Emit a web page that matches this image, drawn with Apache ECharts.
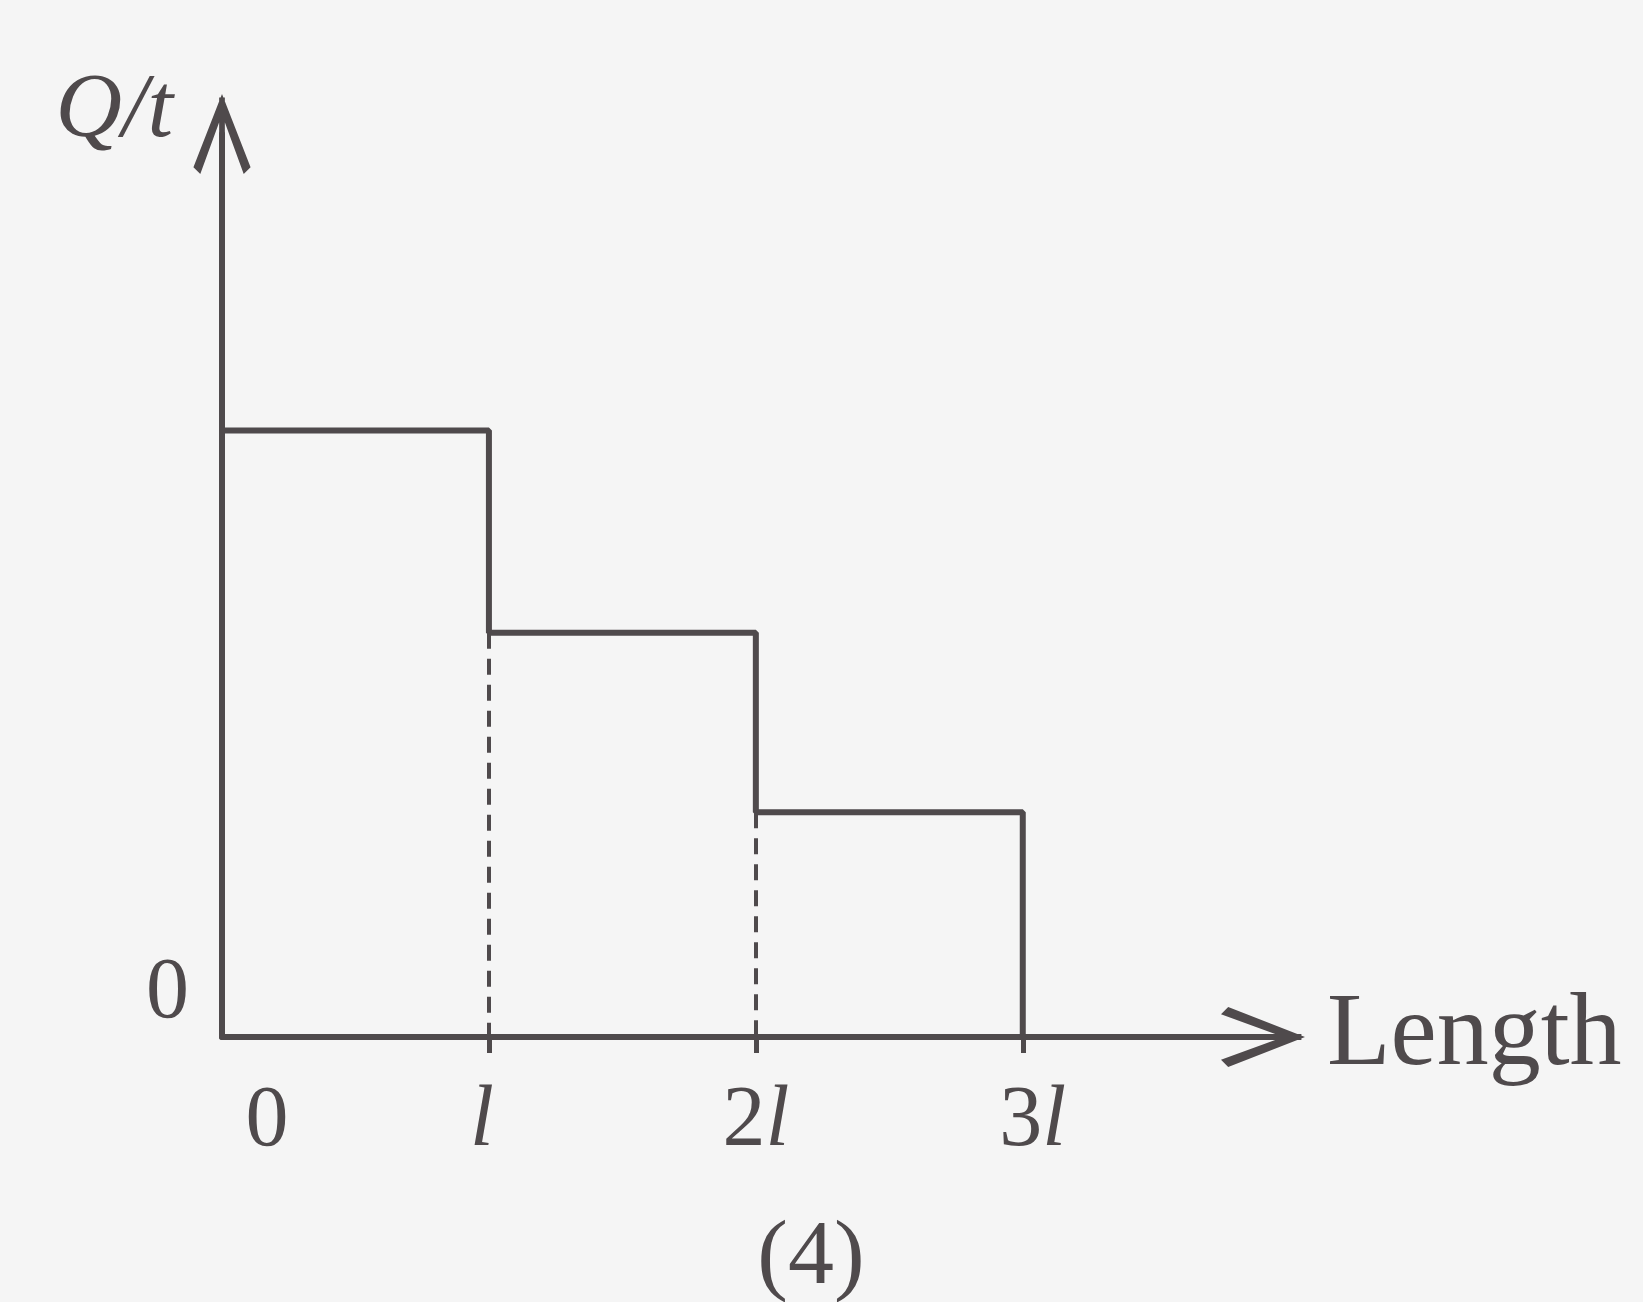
<!DOCTYPE html>
<html>
<head>
<meta charset="utf-8">
<script src="https://cdn.jsdelivr.net/npm/echarts@6/dist/echarts.min.js"></script>
<style>
  html, body { margin: 0; padding: 0; background: #f5f5f5; }
  #chart { width: 1643px; height: 1302px; }
</style>
</head>
<body>
<div id="chart"></div>
<script>
// positions along the bar (in units of l) and their tick labels
const xTicks = [0, 1, 2, 3];
const xTickLabels = ['0', 'l', '2l', '3l'];
// Q/t on each of the three segments
const stepLevels = [2.7, 1.8, 1.0];
const yTicks = [0];
const yTickLabels = ['0'];

const ink = '#4f4a4c';
const serif = '"Liberation Serif", "DejaVu Serif", serif';

// open chevron with a shaft to the tip, pointing up (echarts rotates it)
// path box is 100 x 140 so the symbol keeps this shape
const arrow = 'path://M50,0 L100,128 L88,140 L50,36 L12,140 L0,128 Z M45,6 L55,6 L55,140 L45,140 Z';

const stepData = [[xTicks[0], 0]]
  .concat(stepLevels.map((v, i) => [xTicks[i], v]))
  .concat([[xTicks[xTicks.length - 1], 0]]);

// dashed drops under each inner step
const drops = [1, 2].map((i) => [
  { coord: [xTicks[i], stepLevels[i]] },
  { coord: [xTicks[i], 0] },
]);

// nudge a few tick labels off-centre like the print (+ right, - left)
const labelShift = { '0': 90, 'l': -14, '3l': 20 };

const chart = echarts.init(document.getElementById('chart'));

chart.setOption({
  backgroundColor: '#f5f5f5',
  animation: false,
  title: {
    text: '(4)',
    left: 806,
    top: 1208,
    textAlign: 'center',
    textStyle: { fontFamily: serif, fontSize: 92, fontWeight: 'normal', color: ink },
  },
  grid: { left: 222, right: 380, top: 134, bottom: 265 },
  xAxis: {
    type: 'value',
    min: 0,
    max: 3.9,
    name: 'Length',
    nameLocation: 'end',
    nameGap: 64,
    nameTextStyle: { fontFamily: serif, fontSize: 104, color: ink, padding: [0, 0, 34, 0] },
    axisLine: {
      lineStyle: { color: ink, width: 6 },
      symbol: ['none', arrow],
      symbolSize: [60, 84],
    },
    axisTick: { customValues: [1, 2, 3], length: 16, lineStyle: { color: ink, width: 5 } },
    axisLabel: {
      customValues: xTicks,
      margin: 42,
      formatter: (value) => {
        const s = xTickLabels[xTicks.indexOf(value)];
        const m = s.match(/^(\d*)(l?)$/);
        let out = (m[1] ? '{n|' + m[1] + '}' : '') + (m[2] ? '{i|l}' : '');
        const shift = labelShift[s] || 0;
        if (shift > 0) out = '{p' + shift + '|}' + out;
        if (shift < 0) out = out + '{p' + (-shift) + '|}';
        return out;
      },
      rich: {
        n: { fontFamily: serif, fontSize: 86, color: ink, lineHeight: 86 },
        i: { fontFamily: serif, fontStyle: 'italic', fontSize: 86, color: ink, lineHeight: 86 },
        p90: { width: 90 },
        p20: { width: 20 },
        p14: { width: 14 },
      },
    },
    splitLine: { show: false },
  },
  yAxis: {
    type: 'value',
    min: 0,
    max: 4.02,
    name: '{i|Q/t}',
    nameLocation: 'end',
    nameGap: 22,
    nameTextStyle: {
      align: 'right',
      verticalAlign: 'middle',
      padding: [0, 49, 0, 0],
      rich: {
        i: { fontFamily: serif, fontStyle: 'italic', fontSize: 92, color: ink },
      },
    },
    axisLine: {
      show: true,
      lineStyle: { color: ink, width: 6 },
      symbol: ['none', arrow],
      symbolSize: [58, 80],
    },
    axisTick: { show: false },
    axisLabel: {
      customValues: yTicks,
      margin: 33,
      verticalAlign: 'bottom',
      formatter: (value) => yTickLabels[yTicks.indexOf(value)],
      fontFamily: serif,
      fontSize: 86,
      color: ink,
    },
    splitLine: { show: false },
  },
  series: [
    {
      type: 'line',
      step: 'end',
      data: stepData,
      symbol: 'none',
      lineStyle: { color: ink, width: 6 },
      markLine: {
        silent: true,
        symbol: 'none',
        label: { show: false },
        lineStyle: { color: ink, width: 4, type: [16, 10] },
        data: drops,
      },
    },
  ],
});
</script>
</body>
</html>
